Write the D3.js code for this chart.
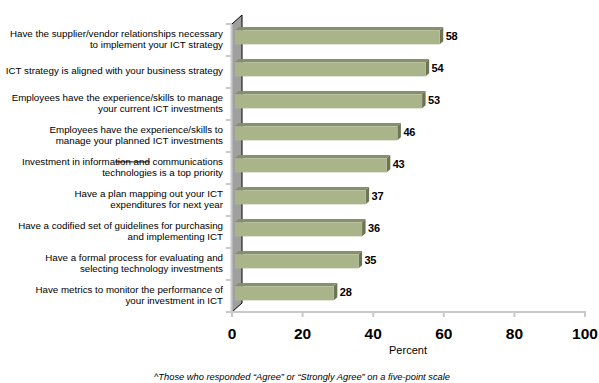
<!DOCTYPE html>
<html>
<head>
<meta charset="utf-8">
<script src="https://cdn.jsdelivr.net/npm/d3@7"></script>
<style>
  html, body { margin: 0; padding: 0; background: #fff; }
  svg { display: block; }
  text { font-family: "Liberation Sans", Arial, sans-serif; fill: #000; }
</style>
</head>
<body>
<svg id="chart" width="599" height="383"></svg>
<script>
// Survey items (each inner array is one wrapped label; ~~...~~ marks struck-out text)
const categories = [
  ["Have the supplier/vendor relationships necessary", "to implement your ICT strategy"],
  ["ICT strategy is aligned with your business strategy"],
  ["Employees have the experience/skills to manage", "your current ICT investments"],
  ["Employees have the experience/skills to", "manage your planned ICT investments"],
  ["Investment in informa~~tion and~~ communications", "technologies is a top priority"],
  ["Have a plan mapping out your ICT", "expenditures for next year"],
  ["Have a codified set of guidelines for purchasing", "and implementing ICT"],
  ["Have a formal process for evaluating and", "selecting technology investments"],
  ["Have metrics to monitor the performance of", "your investment in ICT"]
];
const values = [58, 54, 53, 46, 43, 37, 36, 35, 28];
const tickValues = [0, 20, 40, 60, 80, 100];
const axisTitle = "Percent";
const footnote = "^Those who responded \u201cAgree\u201d or \u201cStrongly Agree\u201d on a five-point scale";

const svg = d3.select("#chart");

// Front plane of the 3-D box
const x = d3.scaleLinear().domain([0, 100]).range([232, 585]);
const y = d3.scaleBand().domain(d3.range(categories.length)).range([24, 312]).padding(0);

// Depth projection: depth 0 = front plane, 1 = back wall
const DX = 10, DY = -9;
const proj = (px, py, d) => [px + DX * d, py + DY * d];
const d0 = 0.3, d1 = 0.65;          // bars sit in the middle of the depth
const barFrac = 0.44;               // bar thickness relative to band

const gridGrey = "#c9c9c9";

// Side wall on the left
const wall = [proj(x(0), 24, 0), proj(x(0), 24, 1), proj(x(0), 312, 1), proj(x(0), 312, 0)];
svg.append("polygon")
  .attr("points", wall.map(p => p.join(",")).join(" "))
  .attr("fill", "#a0a0a0");
[[1, 2], [0, 1], [3, 2]].forEach(([a, b]) => {
  svg.append("line")
    .attr("x1", wall[a][0]).attr("y1", wall[a][1])
    .attr("x2", wall[b][0]).attr("y2", wall[b][1])
    .attr("stroke", "#000").attr("stroke-width", 1);
});

// Category axis line and tick marks (front edge)
svg.append("line")
  .attr("x1", x(0) - 0.5).attr("y1", 24).attr("x2", x(0) - 0.5).attr("y2", 313)
  .attr("stroke", gridGrey).attr("stroke-width", 2);
const bounds = d3.range(categories.length + 1).map(i => i < categories.length ? y(i) : y.range()[1]);
svg.append("g").selectAll("line").data(bounds).join("line")
  .attr("x1", x(0) - 6).attr("x2", x(0))
  .attr("y1", d => d).attr("y2", d => d)
  .attr("stroke", gridGrey).attr("stroke-width", 2);

// Value axis (floor edge)
svg.append("line")
  .attr("x1", x(0) - 1).attr("x2", x(100) + 1)
  .attr("y1", 312).attr("y2", 312)
  .attr("stroke", gridGrey).attr("stroke-width", 2);
svg.append("g").selectAll("line").data(tickValues).join("line")
  .attr("x1", d => x(d)).attr("x2", d => x(d))
  .attr("y1", 311).attr("y2", 317)
  .attr("stroke", gridGrey).attr("stroke-width", 2);
svg.append("g").selectAll("text").data(tickValues).join("text")
  .attr("x", d => x(d)).attr("y", 339)
  .attr("text-anchor", "middle")
  .style("font-size", "15.5px").style("font-weight", "bold")
  .text(d => d);

svg.append("text")
  .attr("x", 408).attr("y", 354)
  .attr("text-anchor", "middle")
  .style("font-size", "11px")
  .text(axisTitle);

// 3-D bars
const barG = svg.append("g");
values.forEach((v, i) => {
  const bh = y.bandwidth() * barFrac;
  const top = y(i) + (y.bandwidth() - bh) / 2;
  const bot = top + bh;
  const x0 = x(0), x1 = x(v);
  const poly = pts => pts.map(p => p.join(",")).join(" ");
  // top face
  barG.append("polygon")
    .attr("points", poly([proj(x0, top, d0), proj(x0, top, d1), proj(x1, top, d1), proj(x1, top, d0)]))
    .attr("fill", "#87906b");
  // end face
  barG.append("polygon")
    .attr("points", poly([proj(x1, top, d0), proj(x1, top, d1), proj(x1, bot, d1), proj(x1, bot, d0)]))
    .attr("fill", "#6c7452");
  // front face
  const f0 = proj(x0, top, d0), f1 = proj(x1, bot, d0);
  barG.append("rect")
    .attr("x", f0[0]).attr("y", f0[1])
    .attr("width", f1[0] - f0[0]).attr("height", f1[1] - f0[1])
    .attr("fill", "#aab48a");
  // value label
  const lab = proj(x1, (top + bot) / 2, d1);
  barG.append("text")
    .attr("x", lab[0] + 2.5).attr("y", (top + bot) / 2 + DY * d0 - 1)
    .attr("dy", "0.35em")
    .style("font-size", "11px").style("font-weight", "bold")
    .style("letter-spacing", "-0.3px")
    .text(v);
});

// Category labels, right-aligned beside the wall
const lineH = 11;
categories.forEach((lines, i) => {
  const cy = y(i) + y.bandwidth() / 2 - 1;
  const startY = cy - (lines.length - 1) * lineH / 2;
  lines.forEach((ln, j) => {
    const t = svg.append("text")
      .attr("x", 223).attr("y", startY + j * lineH)
      .attr("dy", "0.35em")
      .attr("text-anchor", "end")
      .style("font-size", "9.75px");
    ln.split("~~").forEach((seg, k) => {
      const ts = t.append("tspan").text(seg);
      if (k % 2 === 1) ts.style("text-decoration", "line-through");
    });
  });
});

svg.append("text")
  .attr("x", 302).attr("y", 380)
  .attr("text-anchor", "middle")
  .style("font-size", "9.3px").style("font-style", "italic")
  .text(footnote);
</script>
</body>
</html>
